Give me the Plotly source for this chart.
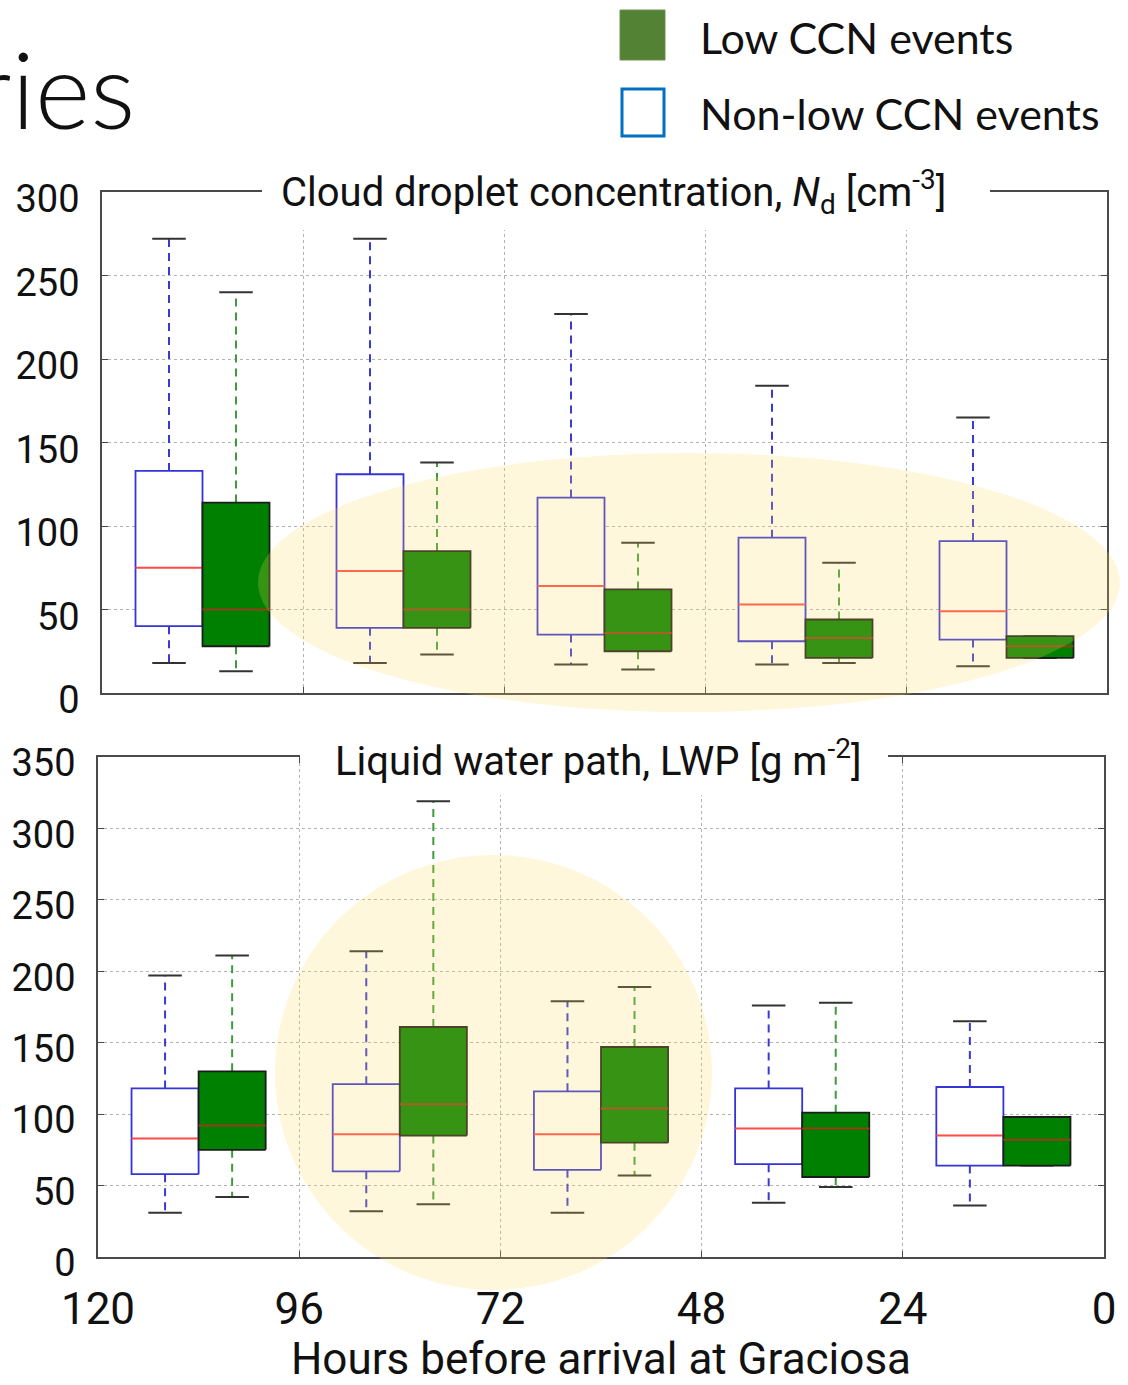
import plotly.graph_objects as go

# Hour bins (centre of each 24 h window before arrival)
BIN_CENTER = [108, 84, 60, 36, 12]
X_TICKS = [120, 96, 72, 48, 24, 0]

# Cloud droplet concentration Nd [cm-3]
ND_NONLOW_UPPER = [272, 272, 227, 184, 165]
ND_NONLOW_Q3 = [133, 131, 117, 93, 91]
ND_NONLOW_MED = [75, 73, 64, 53, 49]
ND_NONLOW_Q1 = [40, 39, 35, 31, 32]
ND_NONLOW_LOWER = [18, 18, 17, 17, 16]

ND_LOW_UPPER = [240, 138, 90, 78, 34]
ND_LOW_Q3 = [114, 85, 62, 44, 34]
ND_LOW_MED = [50, 50, 36, 33, 28]
ND_LOW_Q1 = [28, 39, 25, 21, 21]
ND_LOW_LOWER = [13, 23, 14, 18, 21]

# Liquid water path LWP [g m-2]
LWP_NONLOW_UPPER = [197, 214, 179, 176, 165]
LWP_NONLOW_Q3 = [118, 121, 116, 118, 119]
LWP_NONLOW_MED = [83, 86, 86, 90, 85]
LWP_NONLOW_Q1 = [58, 60, 61, 65, 64]
LWP_NONLOW_LOWER = [31, 32, 31, 38, 36]

LWP_LOW_UPPER = [211, 319, 189, 178, 98]
LWP_LOW_Q3 = [130, 161, 147, 101, 98]
LWP_LOW_MED = [92, 107, 104, 90, 82]
LWP_LOW_Q1 = [75, 85, 80, 56, 64]
LWP_LOW_LOWER = [42, 37, 57, 49, 64]

ND_TICKS = [0, 50, 100, 150, 200, 250, 300]
LWP_TICKS = [0, 50, 100, 150, 200, 250, 300, 350]

W, H = 1128, 1385
OFFSET = 4      # hours between bin centre and box centre
HALF_BOX = 4    # half box width in hours
HALF_CAP = 2    # half whisker-cap width in hours

NARROW = "Liberation Sans Narrow, Roboto, sans-serif"
SLIDE = "Lato, Carlito, Noto Sans, sans-serif"


def px(x, y):
    """Pixel position on the page -> paper coordinates."""
    return x / W, 1 - y / H


def box_traces(centers, lower, q1, med, q3, upper, style, xa, ya):
    bx, by, mx, my, wx, wy, cx, cy = [], [], [], [], [], [], [], []
    for c, lo, a, m, b, up in zip(centers, lower, q1, med, q3, upper):
        l, r = c - HALF_BOX, c + HALF_BOX
        bx += [l, r, r, l, l, None]
        by += [a, a, b, b, a, None]
        mx += [l, r, None]
        my += [m, m, None]
        wx += [c, c, None, c, c, None]
        wy += [b, up, None, a, lo, None]
        cx += [c - HALF_CAP, c + HALF_CAP, None, c - HALF_CAP, c + HALF_CAP, None]
        cy += [up, up, None, lo, lo, None]
    common = dict(xaxis=xa, yaxis=ya, mode="lines", showlegend=False, hoverinfo="skip")
    return [
        go.Scatter(x=wx, y=wy, line=dict(color=style["whisker"], width=2, dash="8px,6px"), **common),
        go.Scatter(x=cx, y=cy, line=dict(color="#333333", width=2), **common),
        go.Scatter(x=bx, y=by, fill="toself", fillcolor=style["fill"],
                   line=dict(color=style["edge"], width=1.8), **common),
        go.Scatter(x=mx, y=my, line=dict(color=style["median"], width=2), **common),
    ]


NONLOW = dict(fill="white", edge="#3434d8", whisker="#3a3ad0", median="#ff4a4a")
LOW = dict(fill="#008000", edge="#1c1c1c", whisker="#3d9b3d", median="#983c1a")

nonlow_x = [c + OFFSET for c in BIN_CENTER]
low_x = [c - OFFSET for c in BIN_CENTER]

fig = go.Figure()
for t in box_traces(nonlow_x, ND_NONLOW_LOWER, ND_NONLOW_Q1, ND_NONLOW_MED, ND_NONLOW_Q3,
                    ND_NONLOW_UPPER, NONLOW, "x", "y"):
    fig.add_trace(t)
for t in box_traces(low_x, ND_LOW_LOWER, ND_LOW_Q1, ND_LOW_MED, ND_LOW_Q3,
                    ND_LOW_UPPER, LOW, "x", "y"):
    fig.add_trace(t)
for t in box_traces(nonlow_x, LWP_NONLOW_LOWER, LWP_NONLOW_Q1, LWP_NONLOW_MED, LWP_NONLOW_Q3,
                    LWP_NONLOW_UPPER, NONLOW, "x2", "y2"):
    fig.add_trace(t)
for t in box_traces(low_x, LWP_LOW_LOWER, LWP_LOW_Q1, LWP_LOW_MED, LWP_LOW_Q3,
                    LWP_LOW_UPPER, LOW, "x2", "y2"):
    fig.add_trace(t)

axis_common = dict(
    showgrid=True, gridcolor="#b3b3b3", griddash="dot", gridwidth=1,
    showline=True, linecolor="#4a4a4a", linewidth=1.6, mirror="ticks",
    ticks="inside", ticklen=6, tickcolor="#4a4a4a", zeroline=False,
    automargin=False,
)

top_x0, top_y_bottom = px(102, 693)
top_x1, top_y_top = px(1107, 192)
bot_x0, bot_y_bottom = px(98, 1257)
bot_x1, bot_y_top = px(1104, 757)

fig.update_layout(
    width=W, height=H,
    margin=dict(l=0, r=0, t=0, b=0, pad=0, autoexpand=False),
    paper_bgcolor="white", plot_bgcolor="white",
    xaxis=dict(domain=[top_x0, top_x1], range=[120, 0], anchor="y",
               tickvals=X_TICKS, showticklabels=False, **axis_common),
    yaxis=dict(domain=[top_y_bottom, top_y_top], range=[0, 300], anchor="x",
               tickvals=ND_TICKS, tickfont=dict(family=NARROW, size=38, color="#111"),
               ticklabelstandoff=13, ticklabelshift=7, **axis_common),
    xaxis2=dict(domain=[bot_x0, bot_x1], range=[120, 0], anchor="y2",
                tickvals=X_TICKS, tickfont=dict(family=NARROW, size=44, color="#111"),
                ticklabelstandoff=12,
                title=dict(text="Hours before arrival at Graciosa",
                           font=dict(family=NARROW, size=44, color="#111"), standoff=18),
                **axis_common),
    yaxis2=dict(domain=[bot_y_bottom, bot_y_top], range=[0, 350], anchor="x2",
                tickvals=LWP_TICKS, tickfont=dict(family=NARROW, size=38, color="#111"),
                ticklabelstandoff=13, ticklabelshift=6, **axis_common),
)

shapes = []
# white gaps in the frame behind the panel titles
for (xa, ya, xb, yb) in [(262, 160, 990, 230), (300, 728, 888, 795)]:
    x0, y0 = px(xa, yb)
    x1, y1 = px(xb, ya)
    shapes.append(dict(type="rect", xref="paper", yref="paper", x0=x0, x1=x1, y0=y0, y1=y1,
                       fillcolor="white", line=dict(width=0), layer="above"))
# yellow highlight ellipses
for (xa, ya, xb, yb) in [(258, 453, 1120, 712), (275, 855, 712, 1290)]:
    x0, y0 = px(xa, yb)
    x1, y1 = px(xb, ya)
    shapes.append(dict(type="circle", xref="paper", yref="paper", x0=x0, x1=x1, y0=y0, y1=y1,
                       fillcolor="rgba(255,215,90,0.21)", line=dict(width=0), layer="above"))
# legend swatches
gx0, gy0 = px(620, 60)
gx1, gy1 = px(665, 10)
shapes.append(dict(type="rect", xref="paper", yref="paper", x0=gx0, x1=gx1, y0=gy0, y1=gy1,
                   fillcolor="#548235", line=dict(color="#6a9150", width=1), layer="above"))
bx0, by0 = px(622, 136)
bx1, by1 = px(664, 89)
shapes.append(dict(type="rect", xref="paper", yref="paper", x0=bx0, x1=bx1, y0=by0, y1=by1,
                   fillcolor="white", line=dict(color="#0070C0", width=3), layer="above"))
fig.update_layout(shapes=shapes)

annotations = []
tx, ty = px(613, 192)
annotations.append(dict(text="Cloud droplet concentration, <i>N</i><sub>d</sub> [cm<sup>-3</sup>]",
                        x=tx, y=ty, xref="paper", yref="paper", showarrow=False,
                        xanchor="center", yanchor="middle",
                        font=dict(family=NARROW, size=40, color="#111")))
tx, ty = px(598, 758)
annotations.append(dict(text="Liquid water path, LWP [g m<sup>-2</sup>]",
                        x=tx, y=ty, xref="paper", yref="paper", showarrow=False,
                        xanchor="center", yanchor="middle",
                        font=dict(family=NARROW, size=40, color="#111")))
lx, ly = px(698, 38)
annotations.append(dict(text="Low CCN events", x=lx, y=ly, xref="paper", yref="paper",
                        showarrow=False, xanchor="left", yanchor="middle",
                        font=dict(family=SLIDE, size=43, color="#111")))
lx, ly = px(698, 113)
annotations.append(dict(text="Non-low CCN events", x=lx, y=ly, xref="paper", yref="paper",
                        showarrow=False, xanchor="left", yanchor="middle",
                        font=dict(family=SLIDE, size=43, color="#111")))
rx, ry = px(137, 88)
annotations.append(dict(text="ries", x=rx, y=ry, xref="paper", yref="paper",
                        showarrow=False, xanchor="right", yanchor="middle",
                        font=dict(family=SLIDE, size=106, color="#111", weight=300)))
fig.update_layout(annotations=annotations)

fig.write_html("out.html")
